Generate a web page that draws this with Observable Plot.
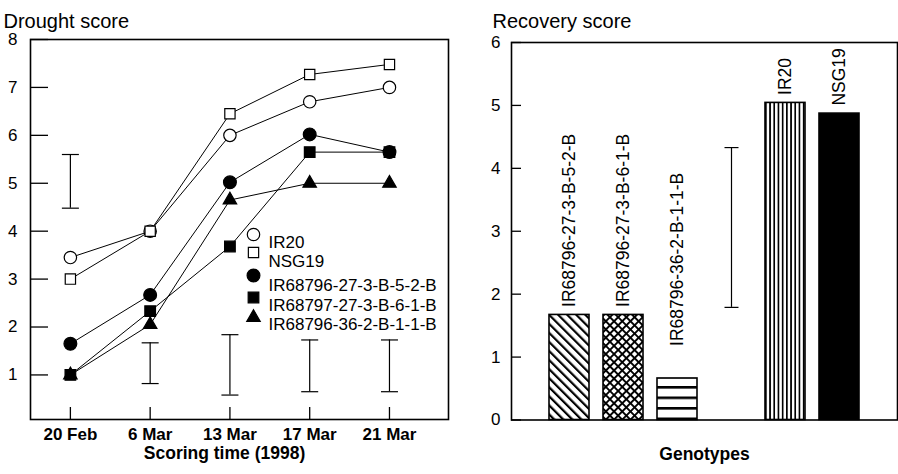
<!DOCTYPE html>
<html><head><meta charset="utf-8">
<script src="https://cdn.jsdelivr.net/npm/d3@7"></script>
<script src="https://cdn.jsdelivr.net/npm/@observablehq/plot@0.6"></script>
<style>
body{margin:0;background:#fff;}
#wrap{position:relative;width:898px;height:474px;font-family:"Liberation Sans",Arial,sans-serif;}
#left{position:absolute;left:0;top:0;}
#right{position:absolute;left:450px;top:0;}
</style></head><body><div id="wrap"><div id="left"></div><div id="right"></div></div>
<script>
// ---- Left panel data: drought score ----
const dates = ["20 Feb", "6 Mar", "13 Mar", "17 Mar", "21 Mar"];
const seriesNames = ["IR20", "NSG19", "IR68796-27-3-B-5-2-B", "IR68797-27-3-B-6-1-B", "IR68796-36-2-B-1-1-B"];
const ir20 = [3.45, 4.0, 6.0, 6.7, 7.0];
const nsg19 = [3.0, 4.0, 6.45, 7.27, 7.48];
const ir68796_27_3_B_5_2_B = [1.65, 2.67, 5.02, 6.02, 5.65];
const ir68797_27_3_B_6_1_B = [1.0, 2.33, 3.68, 5.65, 5.65];
const ir68796_36_2_B_1_1_B = [1.0, 2.05, 4.65, 5.0, 5.0];
const droughtErrLow = [4.48, 0.82, 0.58, 0.65, 0.65];
const droughtErrHigh = [5.6, 1.67, 1.84, 1.73, 1.73];
const droughtTicks = [1, 2, 3, 4, 5, 6, 7, 8];

// ---- Right panel data: recovery score ----
const genotypes = ["IR68796-27-3-B-5-2-B", "IR68796-27-3-B-6-1-B", "IR68796-36-2-B-1-1-B", "IR20", "NSG19"];
const recovery = [1.67, 1.67, 0.66, 5.04, 4.87];
const recoveryErrLow = [1.79];
const recoveryErrHigh = [4.33];
const recoveryTicks = [0, 1, 2, 3, 4, 5, 6];

// ---- build tables ----
const seriesValues = [ir20, nsg19, ir68796_27_3_B_5_2_B, ir68797_27_3_B_6_1_B, ir68796_36_2_B_1_1_B];
const rows = seriesNames.flatMap((s, i) => seriesValues[i].map((v, j) => ({series: s, t: j, value: v})));
const dErr = dates.map((d, j) => ({t: j, lo: droughtErrLow[j], hi: droughtErrHigh[j]}));

const symStyle = [
  {symbol: "circle", fill: "white", r: 6.2},
  {symbol: "square", fill: "white", r: 5.8},
  {symbol: "circle", fill: "black", r: 6.4},
  {symbol: "square", fill: "black", r: 6.0},
  {symbol: "triangle", fill: "black", r: 5.0}
];
const legendSymDy = [195, 213, 236, 258, 278];
const legendTextDy = [196, 215.5, 239, 259, 278.5];

const cap = (w) => ({draw(ctx) { ctx.moveTo(-w, 0); ctx.lineTo(w, 0); }});

const font = '"Liberation Sans", Arial, sans-serif';

const left = Plot.plot({
  width: 450, height: 474,
  marginLeft: 30, marginRight: 2, marginTop: 39, marginBottom: 55,
  style: {fontFamily: font, fontSize: "17px", color: "black", background: "white", overflow: "visible"},
  x: {type: "linear", domain: [-0.5, 4.74]},
  y: {domain: [0.07, 8]},
  marks: [
    Plot.axisY({ticks: droughtTicks, tickSize: -18, tickPadding: 31, label: null, strokeWidth: 1.3, fontSize: 17}),
    Plot.axisX({ticks: [0, 1, 2, 3, 4], tickFormat: (i) => dates[i], tickSize: -12, tickPadding: 20, label: null, fontWeight: "bold", fontSize: 17, strokeWidth: 1.3}),
    Plot.text(["Scoring time (1998)"], {frameAnchor: "bottom", dx: -15, dy: 39, fontWeight: "bold", fontSize: 17.5}),
    Plot.text(["Drought score"], {frameAnchor: "top-left", dx: -27, dy: -26, textAnchor: "start", fontSize: 20}),
    Plot.ruleX(dErr, {x: "t", y1: "lo", y2: "hi", stroke: "black", strokeWidth: 1.2}),
    Plot.dot(dErr, {x: "t", y: "lo", symbol: cap(8.5), stroke: "black", fill: "none", strokeWidth: 1.2}),
    Plot.dot(dErr, {x: "t", y: "hi", symbol: cap(8.5), stroke: "black", fill: "none", strokeWidth: 1.2}),
    Plot.line(rows, {x: "t", y: "value", z: "series", stroke: "black", strokeWidth: 1}),
    ...seriesNames.map((s, i) => Plot.dot(rows.filter(d => d.series === s), {
      x: "t", y: "value", symbol: symStyle[i].symbol, fill: symStyle[i].fill, r: symStyle[i].r, stroke: "black", strokeWidth: 1.2
    })),
    ...seriesNames.map((s, i) => Plot.dot([s], {
      frameAnchor: "top-left", dx: 223, dy: legendSymDy[i], symbol: symStyle[i].symbol, fill: symStyle[i].fill, r: symStyle[i].r, stroke: "black", strokeWidth: 1.2
    })),
    ...seriesNames.map((s, i) => Plot.text([s], {
      frameAnchor: "top-left", dx: 238, dy: legendTextDy[i], textAnchor: "start", text: d => d, fontSize: 17
    })),
    Plot.frame({stroke: "black", strokeWidth: 1.6})
  ]
});
document.getElementById("left").appendChild(left);

// ---- right panel ----
const lsd = "LSD";
const xDomain = [...genotypes.slice(0, 3), lsd, ...genotypes.slice(3)];
const bars = genotypes.map((g, i) => ({name: g, value: recovery[i]}));
const rErr = [{name: lsd, lo: recoveryErrLow[0], hi: recoveryErrHigh[0]}];
const patterns = ["url(#pDiag)", "url(#pCross)", "url(#pHoriz)", "url(#pVert)", "black"];

const defsMark = () => {
  const defs = d3.create("svg:defs");
  const p1 = defs.append("pattern").attr("id", "pDiag").attr("patternUnits", "userSpaceOnUse")
    .attr("width", 6.4).attr("height", 6.4).attr("patternTransform", "rotate(-45)");
  p1.append("rect").attr("width", 6.4).attr("height", 6.4).attr("fill", "white");
  p1.append("rect").attr("x", 0).attr("width", 2.2).attr("height", 6.4).attr("fill", "black");
  const p2 = defs.append("pattern").attr("id", "pCross").attr("patternUnits", "userSpaceOnUse")
    .attr("width", 5.8).attr("height", 5.8).attr("patternTransform", "rotate(45)");
  p2.append("rect").attr("width", 5.8).attr("height", 5.8).attr("fill", "white");
  p2.append("rect").attr("x", 0).attr("width", 1.9).attr("height", 5.8).attr("fill", "black");
  p2.append("rect").attr("y", 0).attr("width", 5.8).attr("height", 1.9).attr("fill", "black");
  const p3 = defs.append("pattern").attr("id", "pHoriz").attr("patternUnits", "userSpaceOnUse")
    .attr("width", 10).attr("height", 10.5).attr("y", 386 - 10.5 * 36);
  p3.append("rect").attr("width", 10).attr("height", 10.5).attr("fill", "white");
  p3.append("rect").attr("y", 0).attr("width", 10).attr("height", 2.6).attr("fill", "black");
  const p4 = defs.append("pattern").attr("id", "pVert").attr("patternUnits", "userSpaceOnUse")
    .attr("width", 4.2).attr("height", 10);
  p4.append("rect").attr("width", 4.2).attr("height", 10).attr("fill", "white");
  p4.append("rect").attr("x", 0).attr("width", 1.7).attr("height", 10).attr("fill", "black");
  return defs.node();
};

const right = Plot.plot({
  width: 448, height: 474,
  marginLeft: 61, marginRight: 1, marginTop: 42, marginBottom: 54.5,
  style: {fontFamily: font, fontSize: "17px", color: "black", background: "white", overflow: "visible"},
  x: {domain: xDomain, paddingInner: 0.26, paddingOuter: 0.7, axis: null},
  y: {domain: [0, 6]},
  marks: [
    defsMark,
    Plot.axisY({ticks: recoveryTicks, tickFormat: d3.format("d"), tickSize: -10, tickPadding: 21, label: null, strokeWidth: 1.3, fontSize: 17}),
    Plot.text(["Genotypes"], {frameAnchor: "bottom", dy: 40, fontWeight: "bold", fontSize: 17.5}),
    Plot.text(["Recovery score"], {frameAnchor: "top-left", dx: -19, dy: -29, textAnchor: "start", fontSize: 20}),
    ...bars.map((b, i) => Plot.barY([b], {x: "name", y: "value", fill: patterns[i], stroke: "black", strokeWidth: 1.6})),
    Plot.text(bars, {x: "name", y: d => Math.max(d.value, 1.05), text: "name", rotate: -90, textAnchor: "start", dy: -8, fontSize: 17.5}),
    Plot.ruleX(rErr, {x: "name", y1: "lo", y2: "hi", stroke: "black", strokeWidth: 1.2}),
    Plot.dot(rErr, {x: "name", y: "lo", symbol: cap(7), stroke: "black", fill: "none", strokeWidth: 1.2}),
    Plot.dot(rErr, {x: "name", y: "hi", symbol: cap(7), stroke: "black", fill: "none", strokeWidth: 1.2}),
    Plot.frame({stroke: "black", strokeWidth: 1.6})
  ]
});
document.getElementById("right").appendChild(right);
</script>
</body></html>
